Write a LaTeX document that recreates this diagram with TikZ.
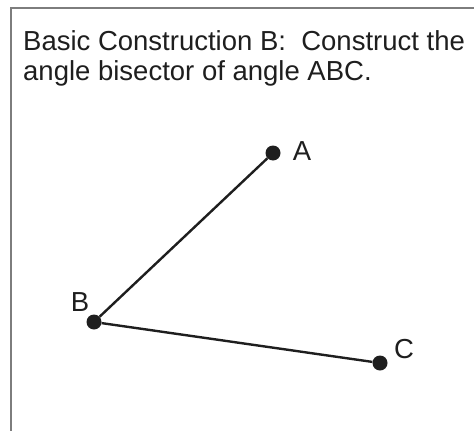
\documentclass[tikz,border=0pt]{standalone}
\usepackage{fontspec}
\setmainfont{Liberation Sans}
\usetikzlibrary{positioning}
\definecolor{FrameGray}{RGB}{125,125,125}
\definecolor{InkBlack}{RGB}{30,30,30}

\begin{document}
\begin{tikzpicture}[x=1pt, y=-1pt,
    pt/.style={circle, fill=InkBlack, inner sep=0pt, minimum size=15pt},
    txt/.style={font=\fontsize{27.5}{33}\selectfont, text=InkBlack, inner sep=0pt}]
    \useasboundingbox (0,0) rectangle (474,431);

    % Frame
    \draw[FrameGray, line width=2pt] (11,431) -- (11,8) -- (474,8);

    % Instruction
    \node[txt, anchor=base west] (line1) at (23,50) {Basic Construction B:\ \ Construct the};
    \node[txt, anchor=base west] (line2) at (23,80) {angle bisector of angle ABC.};

    % Points
    \node[pt] (A) at (273,153) {};
    \node[pt] (B) at (94,322) {};
    \node[pt] (C) at (380,363) {};

    % Labels
    \node[txt] (labA) at (302,151) {A};
    \node[txt] (labB) at (80,302) {B};
    \node[txt] (labC) at (404,349) {C};

    % Sides
    \draw[InkBlack, line width=2.4pt] (B) -- (A);
    \draw[InkBlack, line width=2.4pt] (B) -- (C);
  \end{tikzpicture}
\end{document}
